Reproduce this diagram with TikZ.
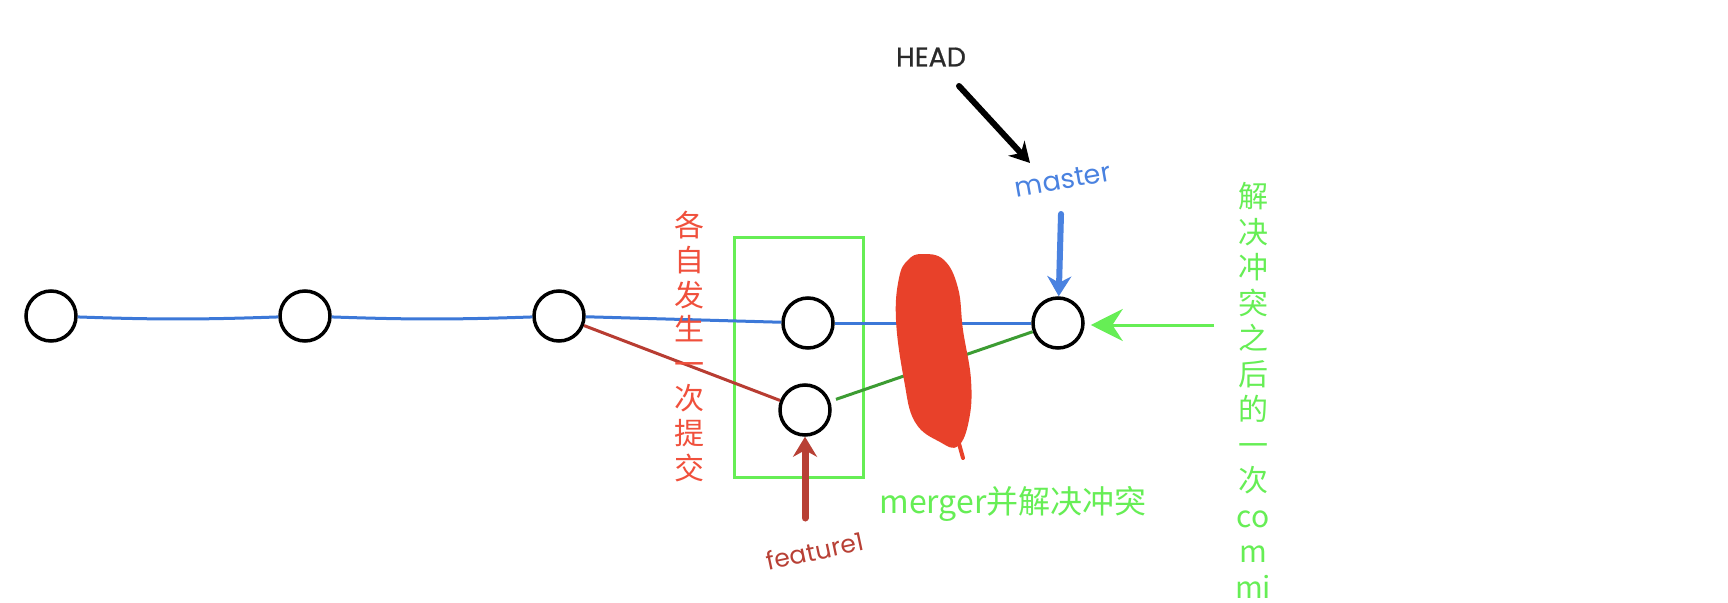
\documentclass[tikz,border=0pt]{standalone}
\usepackage{fontspec}
\setmainfont{Poppins}
\newfontfamily\cjk{Noto Sans CJK SC}
\newfontfamily\headfont[FakeBold=0.8]{Poppins}
\usetikzlibrary{arrows.meta}
\definecolor{edgeblue}{HTML}{3C78D8}
\definecolor{mblue}{HTML}{4A82E0}
\definecolor{edgered}{HTML}{B83C32}
\definecolor{edgegreen}{HTML}{3C9C32}
\definecolor{brightgreen}{HTML}{66EE55}
\definecolor{textred}{HTML}{F0503C}
\definecolor{scribble}{HTML}{E8412A}
\definecolor{featred}{HTML}{B84035}
\definecolor{headgray}{HTML}{2A2A2A}
\tikzset{
  commit/.style={circle, draw=black, line width=3.5pt, minimum size=50pt, inner sep=0pt, fill=white},
  edge/.style={line width=3pt},
  vchar/.style={font=\cjk\fontsize{30}{30}\selectfont, inner sep=0pt, text height=0.88em, text depth=0.12em},
  lbl/.style={inner sep=0pt}
}
\begin{document}
\begin{tikzpicture}[x=1pt,y=-1pt]
\useasboundingbox (0,0) rectangle (1728,602);
\fill[white] (0,0) rectangle (1728,602);
\clip (0,0) rectangle (1728,602);

% green box
\draw[brightgreen, line width=3pt] (734,237) rectangle (863,477);

% commits
\node[commit] (c1) at (51,316) {};
\node[commit] (c2) at (305,316) {};
\node[commit] (c3) at (559,316) {};
\node[commit] (c4) at (808,323) {};
\node[commit] (c5) at (805,410) {};
\node[commit] (c6) at (1058,323) {};

% edges
\draw[edge, edgeblue] (c1) to[bend right=2] (c2);
\draw[edge, edgeblue] (c2) to[bend right=2] (c3);
\draw[edge, edgeblue] (c3) -- (c4);
\draw[edge, edgeblue] (c4) -- (c6);
\draw[edge, edgered] (c3) -- (c5);
\draw[edge, edgegreen, shorten <=6pt] (c5) -- (c6);

% red scribble
\fill[scribble] plot[smooth cycle, tension=0.7] coordinates {
  (922,254) (944,260) (958,288) (963,330) (971,380) (969,420) (958,446)
  (940,442) (915,422) (904,380) (896,320) (899,278) (908,260)};
\draw[scribble, line width=4pt, line cap=round] (958,440) -- (963,458);

% HEAD
\node[lbl, text=headgray, font=\headfont\fontsize{27}{27}\selectfont] (head) at (931,57) {HEAD};
\coordinate (headtail) at (959,86);
\coordinate (headtip) at (1030,163);
\draw[line width=6pt, line cap=round, -{Stealth[length=20pt,width=22pt]}] (headtail) -- (headtip);

% master
\node[lbl, text=mblue, rotate=10, font=\fontsize{27}{27}\selectfont] (master) at (1063,180) {master};
\coordinate (mtail) at (1061,214);
\draw[mblue, line width=6pt, line cap=round, -{Stealth[length=20pt,width=24pt]}] (mtail) -- (c6);

% green arrow to c6
\coordinate (gtail) at (1214,325);
\draw[brightgreen, line width=3pt, -{Stealth[length=32pt,width=32pt]}, shorten >=6pt] (gtail) -- (gtail -| c6.east);

% feature1
\node[lbl, text=featred, rotate=12, font=\fontsize{25}{25}\selectfont] (feat) at (815,551) {feature1};
\coordinate (ftail) at (805,518);
\draw[featred, line width=7pt, line cap=round, -{Stealth[length=20pt,width=24pt]}] (ftail) -- (c5);

% merger text
\node[lbl, text=brightgreen, font=\cjk\fontsize{32}{32}\selectfont] (merge) at (1013,504) {merger并解决冲突};

% red vertical text
\foreach \ch [count=\i from 0] in {各,自,发,生,一,次,提,交} {
  \node[vchar, text=textred] (r\i) at (689,233+34.6*\i) {\ch};
}

% green vertical text
\foreach \ch [count=\i from 0] in {解,决,冲,突,之,后,的,一,次,co,m,mi} {
  \node[vchar, text=brightgreen] (g\i) at (1253,204+35.5*\i) {\ch};
}
\end{tikzpicture}
\end{document}
